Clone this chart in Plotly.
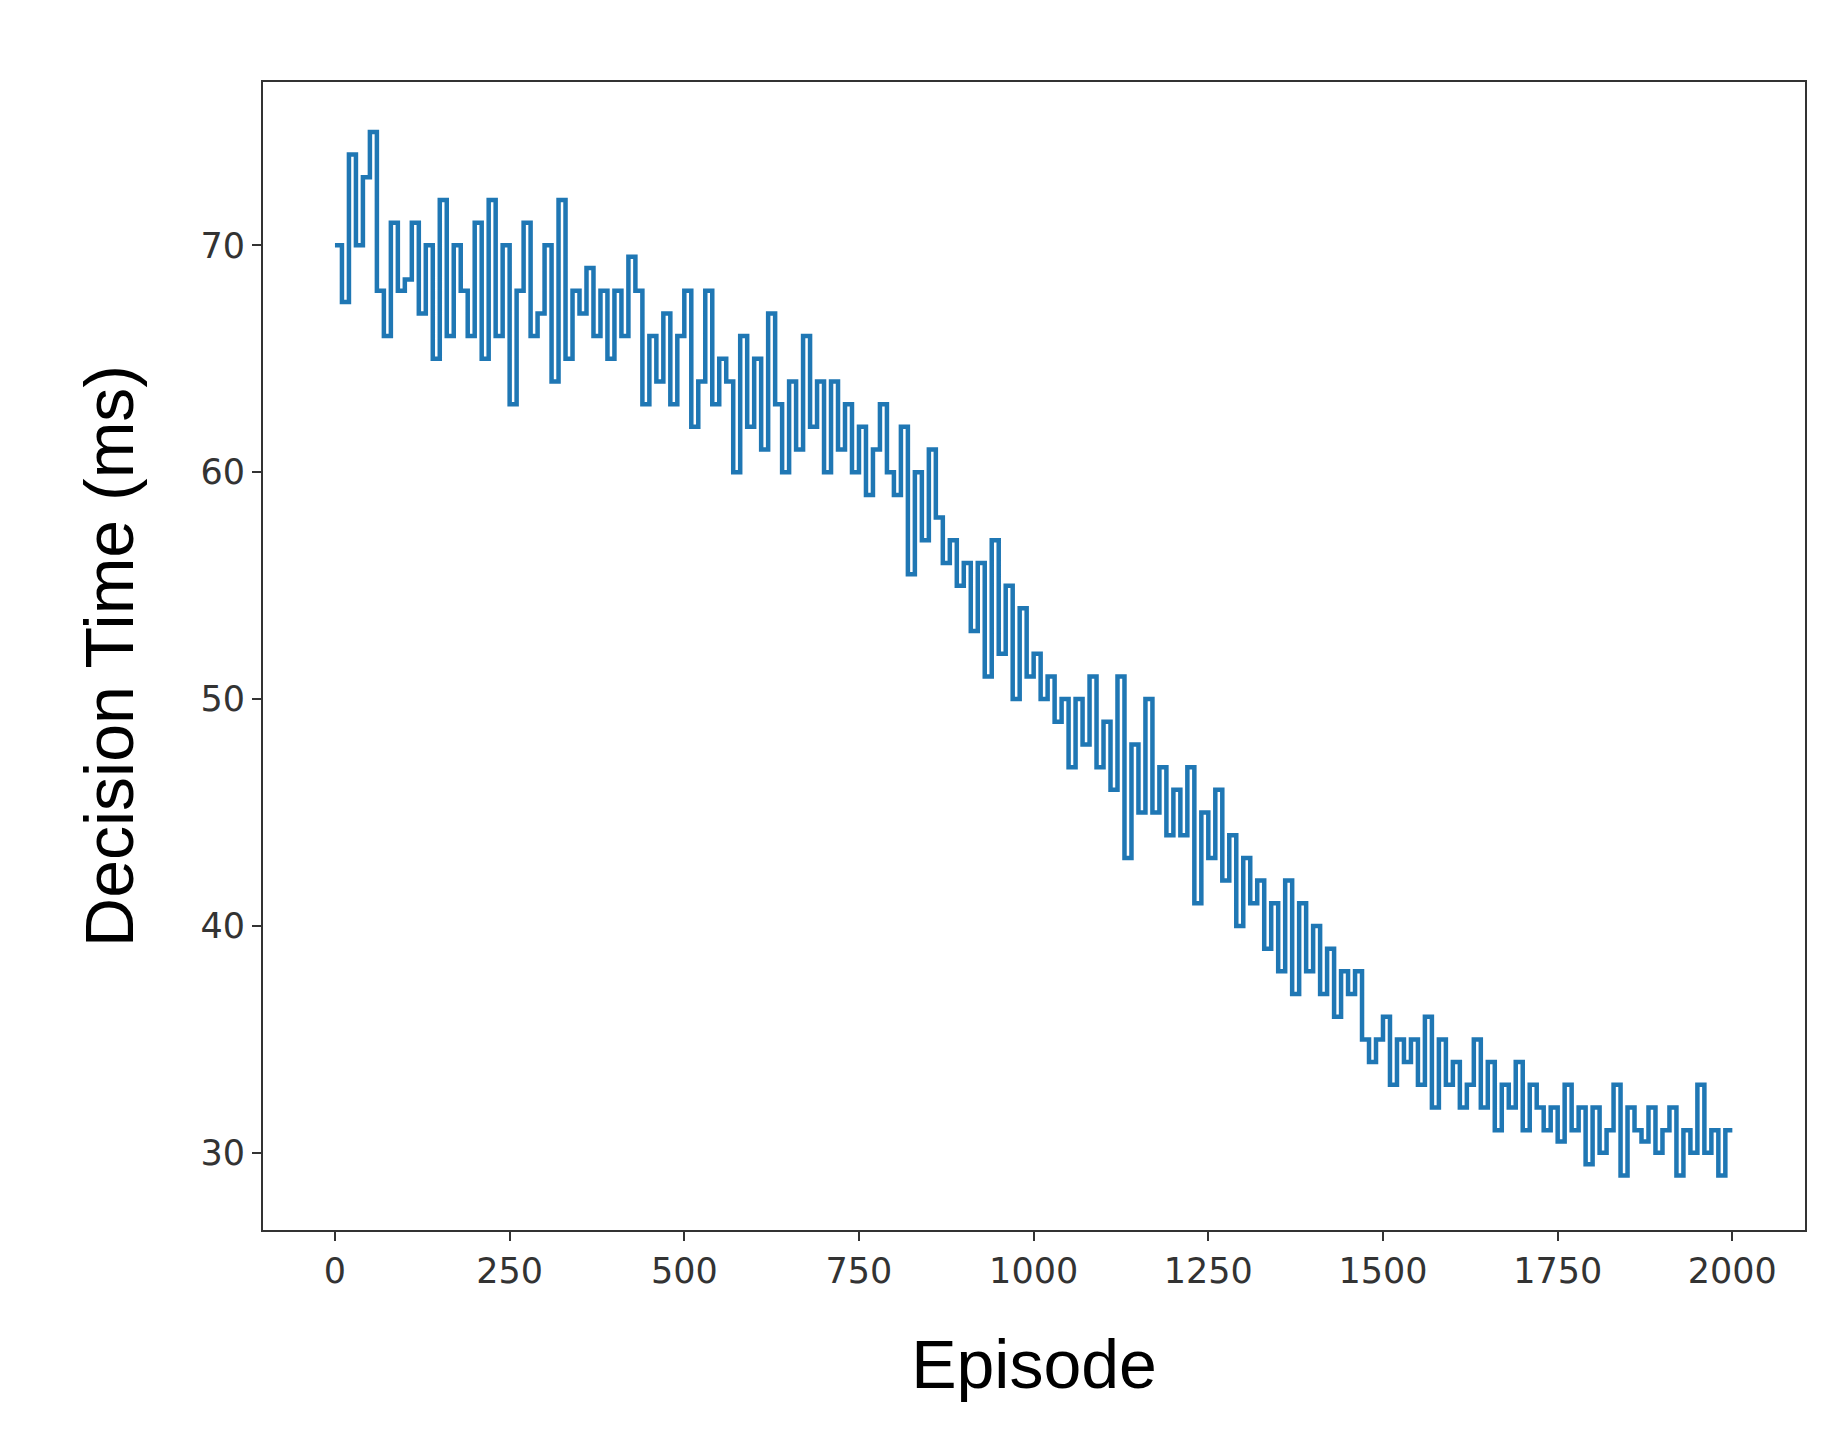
import plotly.graph_objects as go

episodes = list(range(0, 2001, 10))
decision_time = [
70,67.5,74,70,73,75,68,66,71,68,
68.5,71,67,70,65,72,66,70,68,66,
71,65,72,66,70,63,68,71,66,67,
70,64,72,65,68,67,69,66,68,65,
68,66,69.5,68,63,66,64,67,63,66,
68,62,64,68,63,65,64,60,66,62,
65,61,67,63,60,64,61,66,62,64,
60,64,61,63,60,62,59,61,63,60,
59,62,55.5,60,57,61,58,56,57,55,
56,53,56,51,57,52,55,50,54,51,
52,50,51,49,50,47,50,48,51,47,
49,46,51,43,48,45,50,45,47,44,
46,44,47,41,45,43,46,42,44,40,
43,41,42,39,41,38,42,37,41,38,
40,37,39,36,38,37,38,35,34,35,
36,33,35,34,35,33,36,32,35,33,
34,32,33,35,32,34,31,33,32,34,
31,33,32,31,32,30.5,33,31,32,29.5,
32,30,31,33,29,32,31,30.5,32,30,
31,32,29,31,30,33,30,31,29,31,
31]
x_ticks = [0, 250, 500, 750, 1000, 1250, 1500, 1750, 2000]
y_ticks = [30, 40, 50, 60, 70]

fig = go.Figure(go.Scatter(x=episodes, y=decision_time, mode="lines",
                           line=dict(color="#1f77b4", width=4.5, shape="hv")))
axis_common = dict(showline=True, linecolor="#333", linewidth=2, mirror=True,
                   ticks="outside", ticklen=9, tickwidth=1.5, tickcolor="#333",
                   showgrid=False, zeroline=False,
                   tickfont=dict(family="DejaVu Sans", size=35, color="#333"))
fig.update_layout(
    width=1848, height=1446, plot_bgcolor="white", paper_bgcolor="white",
    margin=dict(l=255, r=51, t=74, b=224), showlegend=False,
    xaxis=dict(range=[-103, 2104], tickvals=x_ticks,
               title=dict(text="Episode", font=dict(family="Liberation Sans", size=68, color="black"), standoff=50),
               **axis_common),
    yaxis=dict(range=[26.6, 77.2], tickvals=y_ticks,
               title=dict(text="Decision Time (ms)", font=dict(family="Liberation Sans", size=68, color="black"), standoff=45),
               **axis_common),
)
fig.write_html("out.html")
